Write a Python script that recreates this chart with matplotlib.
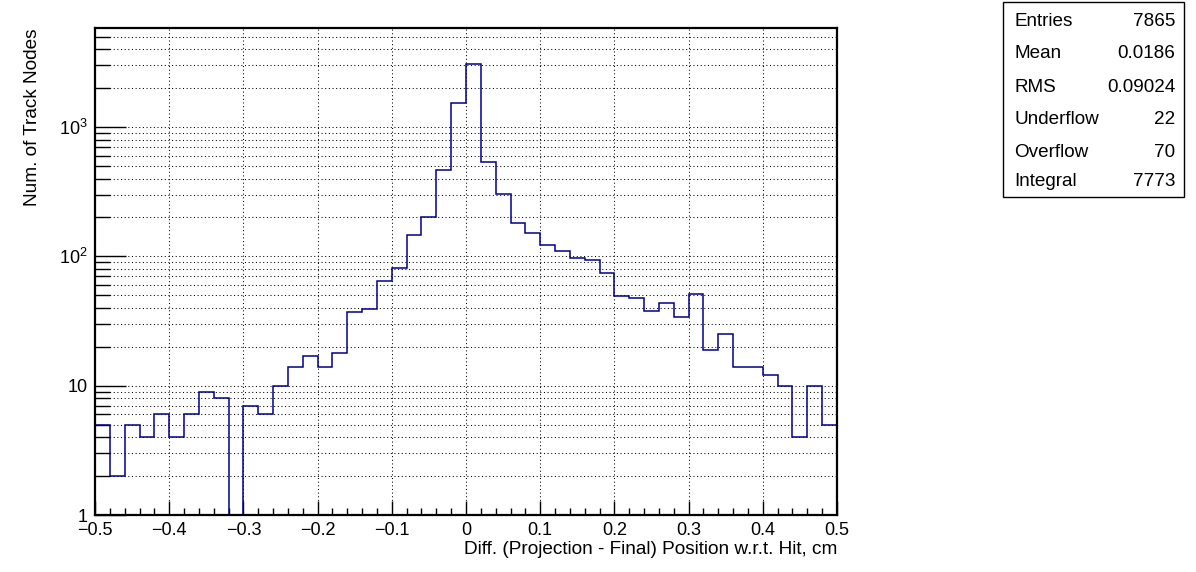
import numpy as np
import matplotlib
matplotlib.use("Agg")
import matplotlib.pyplot as plt
from matplotlib.ticker import FixedLocator, FixedFormatter, LogLocator, NullFormatter, MultipleLocator

plt.rcParams['font.family'] = ['Liberation Sans', 'DejaVu Sans']
plt.rcParams['mathtext.fontset'] = 'custom'
plt.rcParams['mathtext.rm'] = 'Liberation Sans'
plt.rcParams['mathtext.it'] = 'Liberation Sans'

# ---- data ----
bin_edges = np.linspace(-0.5, 0.5, 51)
counts = [5, 2, 5, 4, 6, 4, 6, 9, 8, 0,
          7, 6, 10, 14, 17, 14, 18, 37, 39, 65,
          82, 146, 201, 466, 1528, 3061, 534, 302, 180, 152,
          122, 111, 98, 93, 74, 49, 48, 38, 44, 34,
          51, 19, 25, 14, 14, 12, 10, 4, 10, 5]
xtick_values = [-0.5, -0.4, -0.3, -0.2, -0.1, 0, 0.1, 0.2, 0.3, 0.4, 0.5]
xtick_labels = ['\u22120.5', '\u22120.4', '\u22120.3', '\u22120.2', '\u22120.1', '0',
                '0.1', '0.2', '0.3', '0.4', '0.5']
ytick_values = [1, 10, 100, 1000]
ytick_labels = ['1', '10', '$10^{2}$', '$10^{3}$']
stat_names = ['Entries', 'Mean', 'RMS', 'Underflow', 'Overflow', 'Integral']
stat_values = ['7865', '0.0186', '0.09024', '22', '70', '7773']
xlabel = 'Diff. (Projection - Final) Position w.r.t. Hit, cm'
ylabel = 'Num. of Track Nodes'

W, H = 1196, 572
fig = plt.figure(figsize=(W / 100, H / 100), dpi=100)
ax = fig.add_axes([95 / W, 1 - 515 / H, 742 / W, 487 / H])

ax.stairs(counts, bin_edges, baseline=None, color='#000088', linewidth=1.1, zorder=3)

ax.set_yscale('log')
ax.set_xlim(-0.5, 0.5)
ax.set_ylim(1, 5840)

ax.xaxis.set_major_locator(FixedLocator(xtick_values))
ax.xaxis.set_major_formatter(FixedFormatter(xtick_labels))
ax.xaxis.set_minor_locator(MultipleLocator(0.02))
ax.yaxis.set_major_locator(FixedLocator(ytick_values))
ax.yaxis.set_major_formatter(FixedFormatter(ytick_labels))
ax.yaxis.set_minor_locator(LogLocator(base=10, subs=np.arange(2, 10)))
ax.yaxis.set_minor_formatter(NullFormatter())

ax.tick_params(axis='x', which='major', direction='in', length=10, width=1, labelsize=13, pad=5, color='black')
ax.tick_params(axis='x', which='minor', direction='in', length=5, width=1)
ax.tick_params(axis='y', which='major', direction='in', length=22, width=1, labelsize=13, pad=5)
ax.tick_params(axis='y', which='minor', direction='in', length=11, width=1)

grid_style = dict(color='black', linewidth=0.75, linestyle=(0, (1, 2.5)))
ax.grid(True, axis='x', which='major', **grid_style)
ax.grid(True, axis='y', which='both', **grid_style)
ax.set_axisbelow(True)

for sp in ax.spines.values():
    sp.set_linewidth(1.6)
    sp.set_zorder(5)

ax.set_xlabel(xlabel, fontsize=13.7, ha='right', va='top')
ax.xaxis.set_label_coords(1.0, -0.053)
ax.set_ylabel(ylabel, fontsize=13.7, loc='top', labelpad=13)

# stats box
bx0, by0, bx1, by1 = 1003, 2, 1184, 197
rect = plt.Rectangle((bx0 / W, 1 - by1 / H), (bx1 - bx0) / W, (by1 - by0) / H,
                     transform=fig.transFigure, facecolor='white', edgecolor='black', linewidth=1)
fig.add_artist(rect)
row_y = [21.5, 54, 87.5, 119.5, 152.5, 181.5]
for name, val, yy in zip(stat_names, stat_values, row_y):
    fig.text(1014 / W, 1 - yy / H, name, fontsize=13.6, ha='left', va='center')
    fig.text(1175 / W, 1 - yy / H, val, fontsize=13.6, ha='right', va='center')

fig.savefig('out.png', dpi=100)
